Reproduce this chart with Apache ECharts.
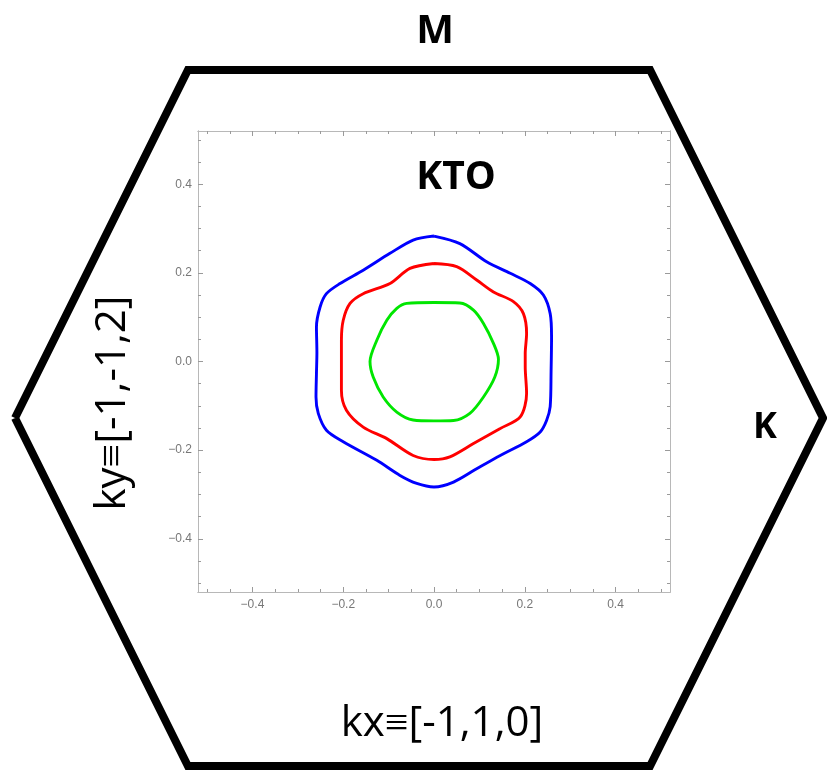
<!DOCTYPE html>
<html>
<head>
<meta charset="utf-8">
<script src="https://cdn.jsdelivr.net/npm/echarts@6/dist/echarts.min.js"></script>
<style>
  html, body { margin: 0; padding: 0; background: #fff; }
  #chart { width: 828px; height: 771px; }
</style>
</head>
<body>
<div id="chart"></div>
<script>
// Fermi-surface contours (kx, ky), ordered around each loop
const blueContour = [
  [0, 0.283], [0.057, 0.266], [0.116, 0.225], [0.168, 0.199], [0.212, 0.176],
  [0.241, 0.150], [0.256, 0.108], [0.259, 0.056], [0.258, -0.022], [0.256, -0.102],
  [0.248, -0.133], [0.234, -0.159], [0.204, -0.181], [0.146, -0.212], [0.094, -0.242],
  [0.043, -0.272], [0, -0.283], [-0.038, -0.275], [-0.075, -0.257], [-0.126, -0.223],
  [-0.200, -0.181], [-0.237, -0.155], [-0.255, -0.117], [-0.260, -0.080], [-0.259, -0.027],
  [-0.258, 0.020], [-0.259, 0.078], [-0.251, 0.123], [-0.237, 0.153], [-0.207, 0.176],
  [-0.156, 0.206], [-0.097, 0.244], [-0.046, 0.274]
];
const redContour = [
  [0, 0.221], [0.050, 0.214], [0.094, 0.184], [0.131, 0.157], [0.175, 0.135],
  [0.197, 0.108], [0.204, 0.063], [0.201, 0.018], [0.201, -0.012], [0.204, -0.072],
  [0.190, -0.125], [0.146, -0.151], [0.087, -0.185], [0.035, -0.215], [0, -0.221],
  [-0.046, -0.212], [-0.104, -0.174], [-0.156, -0.148], [-0.193, -0.110], [-0.204, -0.065],
  [-0.204, -0.012], [-0.204, 0.048], [-0.200, 0.093], [-0.185, 0.131], [-0.156, 0.153],
  [-0.097, 0.176], [-0.053, 0.210]
];
const greenContour = [
  [0, 0.133], [0.057, 0.132], [0.087, 0.116], [0.109, 0.086], [0.131, 0.041],
  [0.142, 0.005], [0.134, -0.035], [0.109, -0.080], [0.079, -0.117], [0.043, -0.133],
  [0, -0.134], [-0.046, -0.132], [-0.082, -0.114], [-0.112, -0.080], [-0.134, -0.035],
  [-0.141, 0], [-0.126, 0.048], [-0.104, 0.093], [-0.082, 0.120], [-0.060, 0.131]
];

// Brillouin-zone hexagon, in units of the zone half-width / half-height
const zoneHexagon = [
  [-1, 0], [-0.572, 1], [0.572, 1], [1, 0], [0.572, -1], [-0.572, -1]
];

// Axis range and tick positions
const axisMin = -0.52;
const axisMax = 0.52;
const majorTicks = [-0.4, -0.2, 0, 0.2, 0.4];
const minorTicks = [-0.5, -0.45, -0.35, -0.3, -0.25, -0.15, -0.1, -0.05,
                    0.05, 0.1, 0.15, 0.25, 0.3, 0.35, 0.45, 0.5];

const frameColor = '#b8b8b8';
const tickColor = '#9a9a9a';
const labelColor = '#777777';

const closeLoop = pts => pts.concat([pts[0]]);
const fmt = v => (v < 0 ? '\u2212' : '') + Math.abs(v).toFixed(1);

function frameAxis(kind, position, ticks, len, withLabels) {
  return {
    type: 'value', gridIndex: 0, position: position,
    min: axisMin, max: axisMax,
    axisLine: { show: true, onZero: false, lineStyle: { color: frameColor, width: 1 } },
    axisTick: { show: true, inside: true, length: len, customValues: ticks,
                lineStyle: { color: tickColor, width: 1 } },
    axisLabel: withLabels ? {
      show: true, customValues: majorTicks, formatter: fmt,
      color: labelColor, fontSize: 12, fontFamily: 'Liberation Sans',
      margin: kind === 'x' ? 7 : 6
    } : { show: false },
    splitLine: { show: false }
  };
}

const chart = echarts.init(document.getElementById('chart'), null, { renderer: 'canvas' });

const contourStyle = (color) => ({ color: color, width: 2.9 });

chart.setOption({
  animation: false,
  backgroundColor: '#ffffff',
  grid: [
    { left: 198, top: 131, width: 472, height: 461, containLabel: false },
    { left: 15, top: 70, width: 808, height: 696, containLabel: false }
  ],
  xAxis: [
    frameAxis('x', 'bottom', majorTicks, 5, true),
    frameAxis('x', 'bottom', minorTicks, 3, false),
    frameAxis('x', 'top', majorTicks, 5, false),
    frameAxis('x', 'top', minorTicks, 3, false),
    { type: 'value', gridIndex: 1, min: -1, max: 1, show: false }
  ],
  yAxis: [
    frameAxis('y', 'left', majorTicks, 5, true),
    frameAxis('y', 'left', minorTicks, 3, false),
    frameAxis('y', 'right', majorTicks, 5, false),
    frameAxis('y', 'right', minorTicks, 3, false),
    { type: 'value', gridIndex: 1, min: -1, max: 1, show: false }
  ],
  series: [
    {
      type: 'line', xAxisIndex: 4, yAxisIndex: 4, clip: false,
      data: closeLoop(zoneHexagon), symbol: 'none', smooth: false,
      lineStyle: { color: '#000', width: 8, join: 'miter', miterLimit: 4 },
      silent: true, z: 1
    },
    {
      name: 'blue', type: 'line', xAxisIndex: 0, yAxisIndex: 0,
      data: closeLoop(blueContour), symbol: 'none', smooth: 0.3,
      lineStyle: contourStyle('#0000ff'), z: 3
    },
    {
      name: 'red', type: 'line', xAxisIndex: 0, yAxisIndex: 0,
      data: closeLoop(redContour), symbol: 'none', smooth: 0.3,
      lineStyle: contourStyle('#ff0000'), z: 3
    },
    {
      name: 'green', type: 'line', xAxisIndex: 0, yAxisIndex: 0,
      data: closeLoop(greenContour), symbol: 'none', smooth: 0.3,
      lineStyle: contourStyle('#00e600'), z: 3
    }
  ],
  graphic: [
    { type: 'text', x: 435, y: 32, z: 10,
      style: { text: 'M', fontSize: 40, fontWeight: 'bold', fontFamily: 'Open Sans', fill: '#000',
               align: 'center', verticalAlign: 'middle' } },
    { type: 'text', x: 456, y: 178, z: 10,
      style: { text: 'KTO', fontSize: 39, fontWeight: 'bold', fontFamily: 'Open Sans', fill: '#000',
               align: 'center', verticalAlign: 'middle' } },
    { type: 'text', x: 765, y: 428, z: 10,
      style: { text: 'K', fontSize: 36, fontWeight: 'bold', fontFamily: 'Open Sans', fill: '#000',
               align: 'center', verticalAlign: 'middle' } },
    { type: 'text', x: 442, y: 724, z: 10,
      style: { text: 'kx\u2261[-1,1,0]', fontSize: 42, fontFamily: 'Open Sans', fill: '#000',
               align: 'center', verticalAlign: 'middle' } },
    { type: 'text', x: 113, y: 403, rotation: Math.PI / 2, z: 10,
      style: { text: 'ky\u2261[-1,-1,2]', fontSize: 42, fontFamily: 'Open Sans', fill: '#000',
               align: 'center', verticalAlign: 'middle' } }
  ]
});
</script>
</body>
</html>
